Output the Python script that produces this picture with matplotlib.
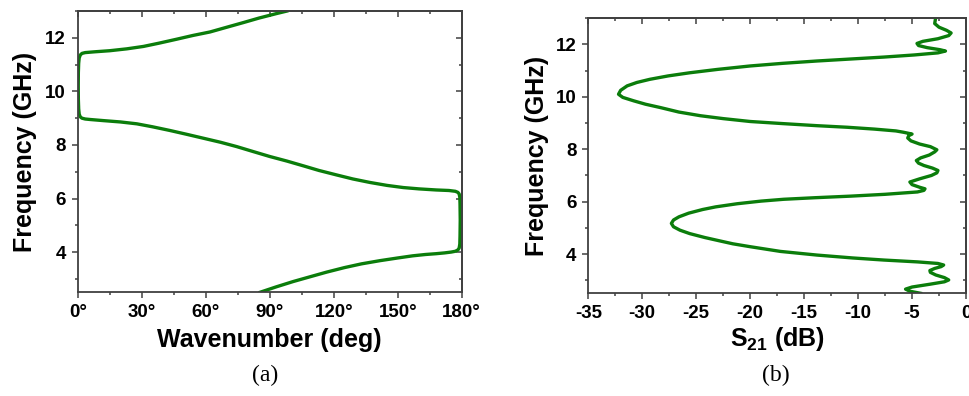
import numpy as np
import matplotlib
matplotlib.use("Agg")
import matplotlib.pyplot as plt
from matplotlib.ticker import MultipleLocator

plt.rcParams['font.family'] = ['Liberation Sans', 'DejaVu Sans']
plt.rcParams['font.weight'] = 'bold'
plt.rcParams['axes.unicode_minus'] = False
plt.rcParams['mathtext.fontset'] = 'custom'
plt.rcParams['mathtext.rm'] = 'Liberation Sans:bold'
plt.rcParams['mathtext.it'] = 'Liberation Sans:bold'

# (a) dispersion diagram: wavenumber (deg) vs frequency (GHz)
wavenumber = [85.5, 93, 101, 109, 116.6, 125, 133, 141.7, 150, 157, 163, 168, 172, 175, 177,
              178.2, 178.8, 179.1, 179.2, 179.3, 179.2, 179.1, 178.8, 178.2, 177, 174, 168,
              160, 152.6, 145, 137, 129, 121.4, 113, 105.8, 98, 90, 82, 74.5, 67, 59, 51,
              43.3, 35, 27.7, 20, 12, 6, 3.5, 2, 1.2, 0.7, 0.45, 0.3, 0.25, 0.3, 0.45, 0.7,
              1.2, 2, 3.5, 8, 15, 23, 30.8, 38, 46.4, 54, 62, 70, 77.6, 85, 93.3, 98]
freq_a = [2.5, 2.7, 2.9, 3.08, 3.25, 3.42, 3.56, 3.68, 3.78, 3.86, 3.91, 3.94, 3.97, 4.0, 4.03,
          4.08, 4.15, 4.3, 4.6, 5.2, 5.8, 6.05, 6.17, 6.23, 6.27, 6.3, 6.32,
          6.36, 6.41, 6.49, 6.60, 6.73, 6.88, 7.05, 7.22, 7.4, 7.57, 7.76, 7.94, 8.1, 8.25, 8.4,
          8.54, 8.68, 8.79, 8.86, 8.91, 8.95, 8.97, 9.0, 9.05, 9.15, 9.35, 9.7, 10.2, 10.7, 11.05, 11.25,
          11.36, 11.42, 11.45, 11.48, 11.52, 11.59, 11.68, 11.8, 11.95, 12.09, 12.22, 12.4, 12.57, 12.74, 12.91, 13.0]

# (b) transmission S21 (dB) vs frequency (GHz)
s21 = [-4.2, -5.2, -5.6, -5.0, -3.3, -2.0, -1.6, -2.0, -2.8, -3.3, -3.35, -2.9, -2.3, -2.07,
       -2.6, -4.5, -7.6, -10.5, -13.8, -17.2, -20.0, -21.6, -22.8, -24.2, -25.6, -26.5, -27.1,
       -27.3, -27.1, -26.6, -25.7, -24.4, -23.2, -21.2, -19.0, -16.9, -14.0, -10.7, -7.5, -4.5,
       -3.9, -3.8, -4.3, -5.0, -5.2, -4.3, -3.2, -2.7, -2.6, -3.1, -3.9, -4.4, -4.6, -4.2, -3.4,
       -2.9, -2.7, -3.3, -4.3, -5.1, -5.4, -5.3, -5.0, -5.8, -6.5, -8.5, -11.0, -13.8, -17.0,
       -20.0, -22.5, -24.6, -26.6, -28.3, -29.7, -30.8, -31.8, -32.2, -32.0, -31.4, -30.5, -29.3,
       -27.6, -25.6, -23.0, -20.0, -17.0, -13.8, -10.5, -7.6, -4.8, -2.6, -1.9, -2.4, -3.6, -4.4,
       -4.54, -4.0, -2.6, -1.6, -1.38, -1.8, -2.5, -2.9, -2.84]
freq_b = [2.5, 2.58, 2.66, 2.74, 2.85, 2.94, 3.01, 3.1, 3.2, 3.3, 3.37, 3.45, 3.52, 3.58,
          3.64, 3.7, 3.77, 3.85, 3.96, 4.1, 4.28, 4.39, 4.5, 4.63, 4.78, 4.91, 5.04,
          5.17, 5.3, 5.42, 5.56, 5.70, 5.80, 5.92, 6.02, 6.09, 6.15, 6.21, 6.28, 6.37,
          6.43, 6.49, 6.55, 6.65, 6.75, 6.87, 7.0, 7.1, 7.19, 7.28, 7.38, 7.47, 7.57, 7.67, 7.78,
          7.9, 7.98, 8.1, 8.2, 8.32, 8.43, 8.52, 8.58, 8.65, 8.7, 8.77, 8.84, 8.90, 8.98,
          9.06, 9.17, 9.28, 9.42, 9.59, 9.72, 9.85, 9.98, 10.1, 10.25, 10.42, 10.55, 10.67,
          10.8, 10.92, 11.05, 11.18, 11.28, 11.37, 11.45, 11.52, 11.6, 11.68, 11.75, 11.8, 11.88,
          11.96, 12.04, 12.12, 12.22, 12.34, 12.44, 12.54, 12.66, 12.8, 12.95]

green = '#0b7d0b'
spine_col = '#404040'

fig = plt.figure(figsize=(9.69, 3.96), dpi=100)
ax1 = fig.add_axes([0.0802, 0.262, 0.3963, 0.710])
ax2 = fig.add_axes([0.6071, 0.2593, 0.3898, 0.6945])


def style(ax):
    for s in ax.spines.values():
        s.set_color(spine_col)
        s.set_linewidth(1.3)
    ax.tick_params(which='both', direction='out', color=spine_col, width=1.1,
                   labelsize=13.5, pad=4)
    ax.tick_params(which='major', length=4.5)
    ax.tick_params(which='minor', length=2.5)
    ax.yaxis.set_major_locator(MultipleLocator(2))
    ax.yaxis.set_minor_locator(MultipleLocator(1))
    top = ax.secondary_xaxis('top')
    right = ax.secondary_yaxis('right')
    top.xaxis.set_major_locator(ax.xaxis.get_major_locator())
    top.xaxis.set_minor_locator(ax.xaxis.get_minor_locator())
    right.yaxis.set_major_locator(MultipleLocator(2))
    right.yaxis.set_minor_locator(MultipleLocator(1))
    for sec in (top, right):
        sec.tick_params(which='both', direction='in', color=spine_col, width=1.1,
                        labeltop=False, labelright=False)
        sec.tick_params(which='major', length=4.5)
        sec.tick_params(which='minor', length=2.5)
        for s in sec.spines.values():
            s.set_color(spine_col)
            s.set_linewidth(1.3)


ax1.plot(wavenumber, freq_a, color=green, lw=2.4, solid_joinstyle='round')
ax1.set_xlim(0, 180)
ax1.set_ylim(2.5, 13)
ax1.xaxis.set_major_locator(MultipleLocator(30))
ax1.xaxis.set_minor_locator(MultipleLocator(15))
ax1.set_xticks([0, 30, 60, 90, 120, 150, 180])
ax1.set_xticklabels(['0°', '30°', '60°', '90°', '120°', '150°', '180°'])
style(ax1)
ax1.set_xlabel('Wavenumber (deg)', fontsize=18, fontweight='bold', labelpad=5)
ax1.set_ylabel('Frequency (GHz)', fontsize=18, fontweight='bold', labelpad=6)

ax2.plot(s21, freq_b, color=green, lw=2.4, solid_joinstyle='round')
ax2.set_xlim(-35, 0)
ax2.set_ylim(2.5, 13)
ax2.xaxis.set_major_locator(MultipleLocator(5))
ax2.xaxis.set_minor_locator(MultipleLocator(2.5))
style(ax2)
ax2.set_xlabel(r'$\mathrm{S_{21}}$ (dB)', fontsize=18, fontweight='bold', labelpad=2)
ax2.set_ylabel('Frequency (GHz)', fontsize=18, fontweight='bold', labelpad=5)

fig.text(0.2735, 0.052, '(a)', family='Liberation Serif', fontweight='normal',
         fontsize=17, ha='center', va='center')
fig.text(0.801, 0.052, '(b)', family='Liberation Serif', fontweight='normal',
         fontsize=17, ha='center', va='center')

fig.savefig('out.png', dpi=100)
